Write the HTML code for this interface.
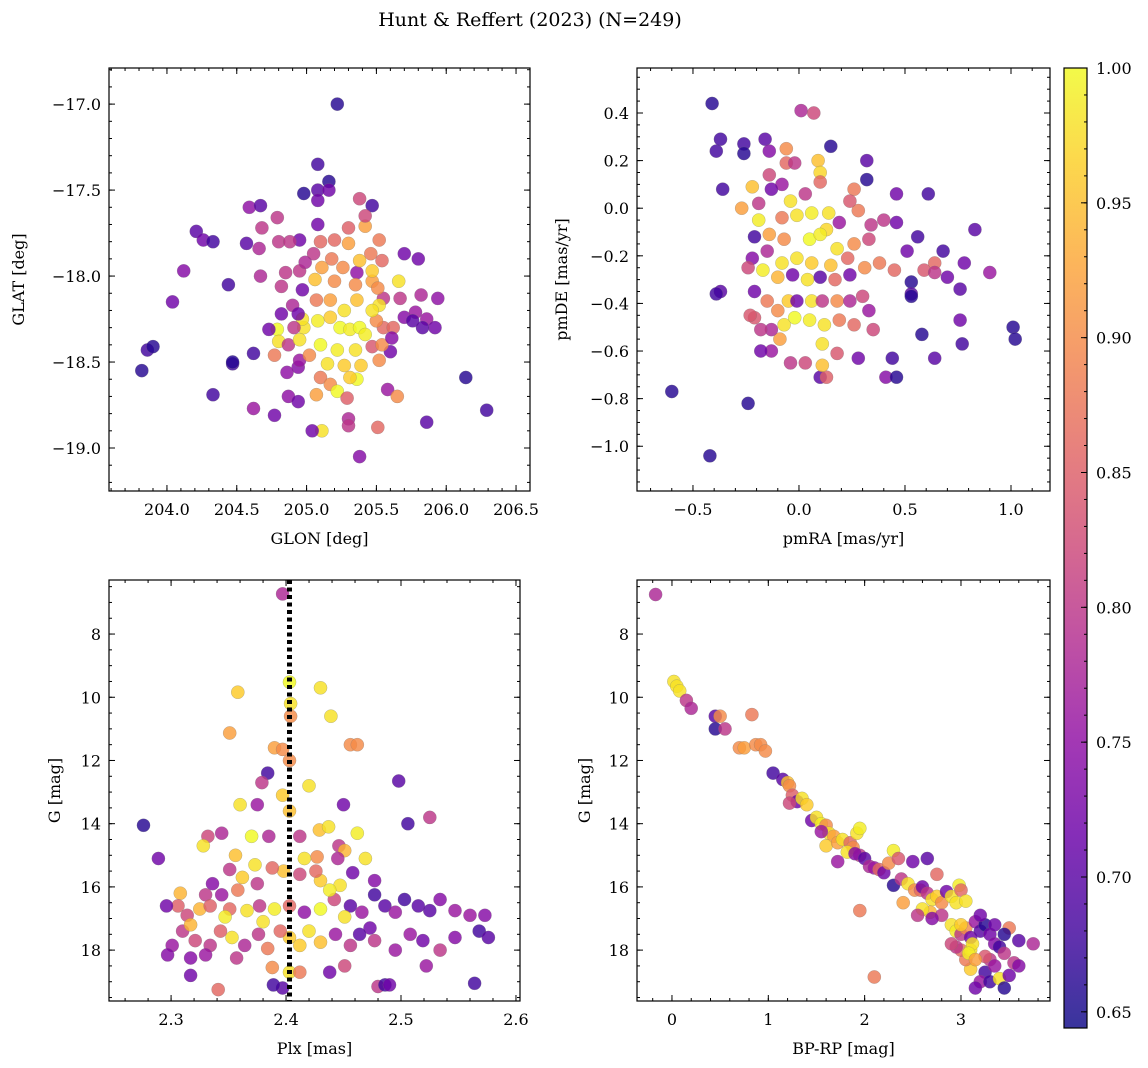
<!DOCTYPE html>
<html><head><meta charset="utf-8"><style>
body{margin:0;background:#fff;}
svg{display:block;font-family:"DejaVu Serif","Liberation Serif",serif;}
</style></head><body>
<svg id="fig" width="1148" height="1068" viewBox="0 0 1148 1068" xmlns="http://www.w3.org/2000/svg">
<text x="530" y="26" font-size="19" text-anchor="middle">Hunt &amp; Reffert (2023) (N=249)</text>
</svg>
<script>
// ---------- Panel 1: GLON / GLAT ----------
const p1Glon=[205.22,203.82,203.86,203.90,204.04,204.12,204.21,204.26,204.33,204.33,204.44,204.47,204.47,204.57,204.59,204.67,204.62,204.62,204.68,204.66,204.67,204.77,204.80,204.79,204.87,204.94,204.94,205.08,205.08,205.08,205.16,205.16,204.98,205.47,205.38,205.08,205.30,205.30,205.42,204.95,204.88,205.10,205.20,205.52,205.42,205.36,205.18,205.05,205.46,205.54,205.70,205.80,205.66,205.47,205.35,205.20,204.97,204.82,204.82,205.55,205.67,205.70,205.78,205.86,205.76,205.92,205.83,205.55,205.62,205.50,204.98,204.79,204.97,204.80,204.87,204.73,204.77,204.95,205.08,205.17,205.24,205.31,205.38,205.27,205.36,205.17,205.07,205.10,205.22,205.35,205.39,205.36,205.27,205.15,205.10,205.17,205.22,205.31,205.07,205.29,205.11,205.04,205.30,205.30,205.51,205.38,205.58,205.65,205.60,205.47,205.54,205.61,204.95,205.02,204.90,204.85,204.95,204.99,205.11,205.26,205.38,205.47,205.94,205.82,205.86,206.14,206.29,205.52,205.51,205.06,204.94,204.91,205.47,205.42,205.52,204.86];
const p1Glat=[-17.00,-18.55,-18.43,-18.41,-18.15,-17.97,-17.74,-17.79,-17.80,-18.69,-18.05,-18.51,-18.50,-17.81,-17.60,-17.59,-18.45,-18.77,-17.72,-17.84,-18.00,-18.81,-17.80,-17.66,-18.70,-18.73,-18.53,-17.35,-17.50,-17.56,-17.45,-17.50,-17.52,-17.59,-17.55,-17.70,-17.72,-17.81,-17.71,-17.79,-17.80,-17.80,-17.79,-17.79,-17.65,-17.98,-17.90,-17.87,-17.87,-17.91,-17.87,-17.90,-18.03,-18.03,-18.05,-18.03,-18.08,-18.22,-18.06,-18.13,-18.13,-18.24,-18.21,-18.25,-18.26,-18.30,-18.30,-18.30,-18.30,-18.26,-18.30,-18.31,-18.25,-18.38,-18.40,-18.31,-18.46,-18.37,-18.26,-18.24,-18.30,-18.31,-18.30,-18.20,-18.14,-18.14,-18.14,-18.40,-18.43,-18.43,-18.52,-18.60,-18.52,-18.51,-18.59,-18.63,-18.67,-18.59,-18.69,-18.71,-18.90,-18.90,-18.83,-18.87,-18.88,-19.05,-18.66,-18.70,-18.44,-18.41,-18.40,-18.36,-18.49,-18.46,-18.17,-17.98,-17.97,-17.92,-17.95,-17.95,-17.91,-17.97,-18.13,-18.11,-18.85,-18.59,-18.78,-18.17,-18.07,-18.02,-18.22,-18.30,-18.20,-18.34,-18.49,-18.56];
const p1Prob=[0.66,0.66,0.68,0.66,0.72,0.74,0.70,0.72,0.68,0.68,0.68,0.68,0.66,0.70,0.75,0.70,0.68,0.76,0.80,0.78,0.78,0.72,0.80,0.80,0.75,0.72,0.74,0.68,0.70,0.72,0.66,0.72,0.66,0.68,0.82,0.72,0.85,0.92,0.92,0.72,0.80,0.86,0.86,0.88,0.82,0.75,0.88,0.80,0.88,0.86,0.72,0.72,0.98,0.92,0.90,0.90,0.72,0.72,0.80,0.80,0.80,0.74,0.76,0.76,0.70,0.72,0.70,0.86,0.86,0.90,0.98,1.00,0.98,0.98,0.80,0.72,0.88,0.98,0.99,0.96,1.00,0.99,1.00,0.98,0.95,0.92,0.88,1.00,0.99,0.98,0.96,1.00,0.96,0.98,0.88,0.90,1.00,0.96,0.92,0.85,0.98,0.72,0.78,0.80,0.86,0.74,0.76,0.90,0.72,0.84,0.90,0.74,0.76,0.90,0.78,0.80,0.80,0.78,0.92,0.90,0.95,0.96,0.75,0.78,0.70,0.66,0.68,0.98,0.90,0.95,0.72,0.80,0.98,0.99,0.90,0.75];

// ---------- Panel 2: pmRA / pmDE ----------
const p2PmRA=[-0.41,-0.39,-0.37,-0.26,-0.26,-0.16,-0.14,0.01,0.07,0.15,0.32,0.32,-0.36,-0.27,-0.22,-0.19,-0.14,-0.06,-0.06,-0.02,0.09,0.10,0.10,-0.08,-0.13,-0.04,0.03,-0.19,-0.08,-0.01,0.06,0.14,0.13,0.19,0.28,0.34,0.40,0.26,0.24,0.46,-0.21,-0.14,-0.07,0.05,0.10,0.18,0.26,0.33,0.23,0.15,0.06,-0.01,-0.08,-0.15,-0.22,-0.24,-0.17,-0.10,-0.03,0.04,0.10,0.17,0.24,0.31,0.38,0.45,0.51,0.59,0.64,0.68,0.64,0.70,0.76,0.78,0.83,0.90,0.61,0.46,0.56,0.53,0.53,0.53,0.58,0.64,0.76,0.77,1.01,1.02,0.44,0.41,0.46,0.28,0.18,0.10,0.13,0.03,-0.04,-0.09,-0.13,-0.18,-0.21,-0.21,-0.15,-0.10,-0.05,-0.01,0.06,0.11,0.18,0.24,0.30,0.33,0.35,0.26,0.19,0.12,0.05,-0.02,-0.07,-0.13,-0.18,0.11,0.11,-0.37,-0.39,-0.23,-0.24,-0.60,-0.42];
const p2PmDE=[0.44,0.24,0.29,0.27,0.23,0.29,0.24,0.41,0.40,0.26,0.20,0.12,0.08,0.00,0.09,0.02,0.14,0.25,0.19,0.19,0.20,0.15,0.11,0.10,0.08,0.03,0.06,-0.05,-0.04,-0.03,-0.02,-0.02,-0.09,-0.06,-0.01,-0.07,-0.05,0.08,0.03,-0.06,-0.12,-0.11,-0.13,-0.13,-0.11,-0.17,-0.15,-0.13,-0.21,-0.24,-0.23,-0.21,-0.23,-0.18,-0.21,-0.25,-0.26,-0.29,-0.28,-0.30,-0.29,-0.30,-0.28,-0.25,-0.23,-0.26,-0.18,-0.26,-0.23,-0.18,-0.27,-0.29,-0.34,-0.23,-0.09,-0.27,0.06,0.06,-0.12,-0.31,-0.36,-0.37,-0.53,-0.63,-0.47,-0.57,-0.50,-0.55,-0.63,-0.71,-0.71,-0.63,-0.61,-0.71,-0.71,-0.65,-0.65,-0.55,-0.60,-0.60,-0.46,-0.35,-0.39,-0.43,-0.39,-0.39,-0.39,-0.39,-0.39,-0.39,-0.37,-0.43,-0.51,-0.49,-0.47,-0.49,-0.47,-0.46,-0.49,-0.51,-0.51,-0.57,-0.66,-0.35,-0.36,-0.45,-0.82,-0.77,-1.04];
const p2Prob=[0.66,0.68,0.68,0.68,0.66,0.70,0.74,0.78,0.82,0.66,0.70,0.66,0.68,0.92,0.95,0.80,0.82,0.90,0.86,0.80,0.95,0.97,0.86,0.76,0.72,0.98,0.80,0.99,0.88,0.98,0.99,0.98,0.97,0.76,0.88,0.80,0.80,0.88,0.84,0.72,0.68,0.92,0.90,1.00,0.99,0.98,0.90,0.82,0.86,0.95,0.96,0.98,0.98,0.78,0.74,0.82,0.99,0.94,0.72,0.98,0.70,0.86,0.72,0.90,0.88,0.86,0.72,0.84,0.86,0.68,0.80,0.72,0.70,0.72,0.70,0.76,0.68,0.72,0.68,0.66,0.70,0.66,0.66,0.70,0.72,0.68,0.66,0.66,0.68,0.74,0.66,0.72,0.84,0.70,0.85,0.82,0.80,0.92,0.76,0.72,0.84,0.72,0.88,0.90,0.96,0.72,0.98,0.80,0.90,0.78,0.82,0.76,0.82,0.86,0.88,0.98,0.99,1.00,0.98,0.78,0.80,0.98,0.95,0.70,0.68,0.84,0.66,0.66,0.66];

// ---------- Panel 3: Plx / G ----------
const p3Plx=[2.397,2.358,2.403,2.430,2.404,2.404,2.351,2.390,2.397,2.439,2.456,2.462,2.384,2.403,2.397,2.403,2.420,2.379,2.375,2.360,2.525,2.498,2.450,2.506,2.276,2.289,2.332,2.344,2.328,2.356,2.370,2.385,2.412,2.429,2.437,2.446,2.462,2.451,2.445,2.469,2.427,2.416,2.447,2.430,2.398,2.388,2.375,2.362,2.358,2.344,2.336,2.330,2.308,2.306,2.296,2.314,2.325,2.334,2.351,2.366,2.377,2.390,2.403,2.416,2.430,2.442,2.456,2.466,2.477,2.486,2.495,2.503,2.515,2.525,2.534,2.547,2.560,2.573,2.568,2.576,2.547,2.534,2.519,2.508,2.495,2.477,2.473,2.464,2.456,2.443,2.430,2.420,2.412,2.403,2.395,2.384,2.376,2.364,2.353,2.343,2.334,2.321,2.310,2.301,2.297,2.317,2.330,2.357,2.388,2.403,2.412,2.397,2.389,2.341,2.317,2.438,2.451,2.480,2.486,2.564,2.522,2.490,2.426,2.412,2.458,2.477,2.351,2.373,2.438,2.451,2.380,2.347,2.317];
const p3G=[6.73,9.84,9.52,9.70,10.2,10.6,11.13,11.6,11.65,10.6,11.5,11.5,12.4,12.0,13.1,13.6,12.8,12.7,13.4,13.4,13.8,12.65,13.4,14.0,14.05,15.1,14.4,14.3,14.7,15.0,14.4,14.4,14.4,14.2,14.1,14.7,14.3,14.85,15.1,15.1,15.05,15.1,15.95,15.8,15.5,15.4,15.9,15.7,16.1,16.25,15.9,16.25,16.2,16.6,16.6,16.9,16.7,16.6,16.7,16.75,16.6,16.7,16.6,16.8,16.7,16.4,16.6,16.8,16.25,16.6,16.8,16.4,16.6,16.75,16.4,16.75,16.9,16.9,17.4,17.6,17.6,18.0,17.7,17.5,18.0,17.7,17.3,17.5,17.85,17.5,17.75,17.4,17.85,17.6,17.4,17.95,17.5,17.85,17.6,17.4,17.85,17.7,17.4,17.85,18.15,18.25,18.15,18.25,18.55,18.7,18.7,19.2,19.1,19.25,18.8,18.7,18.5,19.15,19.1,19.05,18.5,19.1,15.5,15.6,15.55,15.8,15.45,15.3,16.1,16.95,17.1,16.95,17.2];
const p3Prob=[0.78,0.96,1.00,0.98,0.98,0.90,0.92,0.92,0.90,0.98,0.90,0.90,0.68,0.90,0.96,0.95,0.98,0.80,0.76,0.98,0.80,0.70,0.72,0.68,0.66,0.72,0.82,0.78,0.98,0.95,1.00,0.78,0.80,0.95,0.98,0.80,0.99,0.94,0.78,0.98,0.90,0.98,0.98,0.96,0.95,0.86,0.80,0.96,0.88,0.76,0.74,0.80,0.94,0.85,0.72,0.82,0.94,0.85,0.86,0.98,0.80,0.99,0.86,0.75,1.00,0.82,0.70,0.76,0.68,0.70,0.76,0.68,0.70,0.70,0.74,0.76,0.76,0.74,0.68,0.70,0.74,0.80,0.72,0.76,0.76,0.80,0.72,0.70,0.80,0.76,0.95,0.98,0.96,0.96,0.86,0.88,0.80,0.78,0.98,0.85,0.80,0.82,0.80,0.76,0.74,0.74,0.76,0.80,0.90,0.98,0.88,0.70,0.68,0.86,0.72,0.72,0.82,0.80,0.68,0.68,0.76,0.72,0.86,0.82,0.72,0.74,0.80,0.98,0.99,0.98,0.98,0.99,0.94];
const p3PlxLine=2.403;

// ---------- Panel 4: BP-RP / G ----------
const p4Col=[-0.17,0.02,0.05,0.08,0.15,0.20,0.45,0.50,0.45,0.55,0.70,0.75,0.83,0.87,0.92,0.97,1.05,1.15,1.20,1.22,1.25,1.30,1.35,1.40,1.22,1.45,1.50,1.55,1.60,1.63,1.68,1.55,1.60,1.72,1.77,1.85,1.88,1.92,1.95,1.82,1.95,1.90,2.00,2.05,2.10,2.15,2.20,2.25,2.30,2.35,2.50,2.65,2.30,2.38,2.45,2.52,2.58,2.60,2.65,2.70,2.75,2.80,2.85,2.90,2.95,2.98,3.00,3.05,2.75,2.68,2.60,2.80,2.90,2.95,3.00,3.05,3.10,3.15,3.20,3.25,3.30,3.35,3.40,3.45,3.50,3.55,3.60,3.75,3.30,3.25,3.20,3.15,3.30,3.40,3.45,3.10,3.05,3.00,2.95,3.10,3.12,3.00,3.08,3.25,3.35,3.50,1.95,2.10,1.72,2.40,2.55,2.70,3.20,3.35,3.45,3.60,2.90,3.15];
const p4G=[6.75,9.5,9.65,9.8,10.1,10.35,10.6,10.6,11.0,11.0,11.6,11.6,10.55,11.5,11.5,11.7,12.4,12.6,12.7,12.8,13.1,13.3,13.2,13.4,13.35,13.9,13.8,14.0,14.05,14.3,14.4,14.25,14.7,14.6,14.5,14.6,14.75,14.3,14.15,14.9,15.0,14.95,15.1,15.35,15.4,15.45,15.55,15.25,14.85,15.1,15.2,15.1,15.95,15.75,15.9,16.1,16.1,16.0,16.2,16.4,16.3,16.5,16.15,16.3,16.5,15.95,16.1,16.45,15.6,16.8,16.7,16.9,17.2,17.4,17.5,17.3,17.6,17.1,17.4,17.2,17.5,17.8,17.9,18.1,17.3,18.4,18.5,17.8,18.3,18.7,19.0,19.2,19.0,18.9,19.2,18.6,18.3,18.0,17.9,18.0,17.8,17.2,18.1,18.2,18.5,18.8,16.75,18.85,15.2,16.5,16.9,17.0,16.9,17.2,17.5,17.7,17.8,18.3];
const p4Prob=[0.78,0.98,0.98,0.98,0.80,0.78,0.70,0.90,0.66,0.80,0.90,0.92,0.88,0.90,0.90,0.90,0.68,0.70,0.95,0.90,0.85,0.72,0.98,0.96,0.82,0.72,0.98,0.99,0.90,0.98,0.92,0.76,0.96,0.92,0.98,0.86,0.90,0.98,0.99,0.98,0.80,0.74,0.70,0.78,0.76,0.86,0.72,0.90,0.99,0.84,0.72,0.70,0.66,0.80,0.98,0.90,0.86,0.72,0.80,0.98,0.96,0.90,0.72,0.98,0.98,0.99,0.86,0.98,0.86,0.94,0.98,0.80,0.98,0.99,0.80,0.90,0.72,0.76,0.70,0.66,0.72,0.74,0.68,0.80,0.88,0.80,0.74,0.78,0.80,0.68,0.76,0.72,0.68,0.98,0.66,0.96,0.88,0.86,0.80,0.98,0.98,0.96,0.99,0.84,0.76,0.72,0.88,0.88,0.76,0.92,0.80,0.74,0.72,0.72,0.66,0.70,0.82,0.92];

// ---------- Colorbar ----------
const cbMin=0.644, cbMax=1.0;
const cbTicks=[0.65,0.70,0.75,0.80,0.85,0.90,0.95,1.00];

const NS='http://www.w3.org/2000/svg';
const svg=document.getElementById('fig');
function mk(tag,attrs,parent){const e=document.createElementNS(NS,tag);for(const k in attrs)e.setAttribute(k,attrs[k]);(parent||svg).appendChild(e);return e;}

const plasma=[[13,8,135],[65,4,157],[106,0,168],[143,13,164],[177,42,144],[204,71,120],[225,100,98],[242,132,75],[252,166,54],[252,206,37],[240,249,33]];
function cmap(v){let t=(v-cbMin)/(cbMax-cbMin);t=Math.max(0,Math.min(1,t))*10;const i=Math.min(9,Math.floor(t)),f=t-i;const a=plasma[i],b=plasma[i+1];return 'rgb('+a.map((c,k)=>Math.round(c+(b[k]-c)*f)).join(',')+')';}
function fmt(v,d){return (v<0?'\u2212':'')+Math.abs(v).toFixed(d);}

function panel(o){
  const g=mk('g',{});
  
  
  const X=v=>o.x0+(v-o.xr[0])/(o.xr[1]-o.xr[0])*(o.x1-o.x0);
  const Y=v=>o.y0+(v-o.yr[0])/(o.yr[1]-o.yr[0])*(o.y1-o.y0);
  const cp='clip-'+o.name;
  const cl=mk('clipPath',{id:cp},g);mk('rect',{x:o.x0,y:o.y0,width:o.x1-o.x0,height:o.y1-o.y0},cl);
  const pts=mk('g',{'clip-path':'url(#'+cp+')'},g);
  for(let i=0;i<o.xs.length;i++){
    const c=mk('circle',{cx:X(o.xs[i]).toFixed(1),cy:Y(o.ys[i]).toFixed(1),r:6.6,fill:cmap(o.cs[i]),'fill-opacity':0.82,stroke:'#777','stroke-width':0.4,'stroke-opacity':0.6},pts);
    
    
  }
  if(o.vline!==undefined){
    const l=mk('line',{x1:X(o.vline),x2:X(o.vline),y1:o.y0,y2:o.y1,stroke:'#000','stroke-width':5,'stroke-dasharray':'4 3.5'},g);
    
    
  }
  const fr=mk('rect',{x:o.x0,y:o.y0,width:o.x1-o.x0,height:o.y1-o.y0,fill:'none',stroke:'#000','stroke-width':1.2},g);
  
  
  const xlo=Math.min(...o.xr),xhi=Math.max(...o.xr),ylo=Math.min(...o.yr),yhi=Math.max(...o.yr);
  for(let v=Math.ceil(xlo/o.xmin-1e-6)*o.xmin;v<=xhi;v+=o.xmin){const p=X(v);mk('line',{x1:p,x2:p,y1:o.y1,y2:o.y1-3,stroke:'#000'},g);mk('line',{x1:p,x2:p,y1:o.y0,y2:o.y0+3,stroke:'#000'},g);}
  for(let v=Math.ceil(ylo/o.ymin-1e-6)*o.ymin;v<=yhi;v+=o.ymin){const p=Y(v);mk('line',{x1:o.x0,x2:o.x0+3,y1:p,y2:p,stroke:'#000'},g);mk('line',{x1:o.x1,x2:o.x1-3,y1:p,y2:p,stroke:'#000'},g);}
  o.xt.forEach(v=>{const p=X(v);mk('line',{x1:p,x2:p,y1:o.y1,y2:o.y1-6,stroke:'#000'},g);mk('line',{x1:p,x2:p,y1:o.y0,y2:o.y0+6,stroke:'#000'},g);
    const t=mk('text',{x:p,y:o.y1+24,'font-size':16,'text-anchor':'middle'},g);t.textContent=fmt(v,o.xd);
    });
  o.yt.forEach(v=>{const p=Y(v);mk('line',{x1:o.x0,x2:o.x0+6,y1:p,y2:p,stroke:'#000'},g);mk('line',{x1:o.x1,x2:o.x1-6,y1:p,y2:p,stroke:'#000'},g);
    const t=mk('text',{x:o.x0-8,y:p+6,'font-size':16,'text-anchor':'end'},g);t.textContent=fmt(v,o.yd);
    });
  const xl=mk('text',{x:(o.x0+o.x1)/2,y:o.y1+53,'font-size':16,'text-anchor':'middle'},g);xl.textContent=o.xlabel;
  
  const yx=o.ylx,yy=(o.y0+o.y1)/2;
  const yl=mk('text',{x:yx,y:yy,'font-size':16,'text-anchor':'middle',transform:'rotate(-90 '+yx+' '+yy+')'},g);yl.textContent=o.ylabel;
  
}

panel({name:'position-panel',xs:p1Glon,ys:p1Glat,cs:p1Prob,x0:109,x1:530,y0:68,y1:491,xr:[203.585,206.60],yr:[-16.79,-19.25],
  xt:[204,204.5,205,205.5,206,206.5],yt:[-17,-17.5,-18,-18.5,-19],xmin:0.1,ymin:0.1,xd:1,yd:1,xlabel:'GLON [deg]',ylabel:'GLAT [deg]',ylx:24});
panel({name:'proper-motion-panel',xs:p2PmRA,ys:p2PmDE,cs:p2Prob,x0:637,x1:1050,y0:68,y1:491,xr:[-0.764,1.184],yr:[0.589,-1.188],
  xt:[-0.5,0,0.5,1.0],yt:[0.4,0.2,0,-0.2,-0.4,-0.6,-0.8,-1.0],xmin:0.1,ymin:0.05,xd:1,yd:1,xlabel:'pmRA [mas/yr]',ylabel:'pmDE [mas/yr]',ylx:567});
panel({name:'parallax-panel',xs:p3Plx,ys:p3G,cs:p3Prob,vline:p3PlxLine,x0:109,x1:520,y0:580,y1:1001,xr:[2.246,2.6035],yr:[6.29,19.61],
  xt:[2.3,2.4,2.5,2.6],yt:[8,10,12,14,16,18],xmin:0.02,ymin:0.5,xd:1,yd:0,xlabel:'Plx [mas]',ylabel:'G [mag]',ylx:60});
panel({name:'cmd-panel',xs:p4Col,ys:p4G,cs:p4Prob,x0:637,x1:1050,y0:580,y1:1001,xr:[-0.363,3.924],yr:[6.29,19.61],
  xt:[0,1,2,3],yt:[8,10,12,14,16,18],xmin:0.2,ymin:0.5,xd:0,yd:0,xlabel:'BP-RP [mag]',ylabel:'G [mag]',ylx:590});

(function(){
  const x0=1064,x1=1087,y0=68,y1=1028;
  const g=mk('g',{});
  
  
  const defs=mk('defs',{},g);
  const lg=mk('linearGradient',{id:'plasmaGrad',x1:0,y1:1,x2:0,y2:0},defs);
  plasma.forEach((c,i)=>mk('stop',{offset:i/10,'stop-color':'rgb('+c.join(',')+')'},lg));
  mk('rect',{x:x0,y:y0,width:x1-x0,height:y1-y0,fill:'url(#plasmaGrad)','fill-opacity':0.82},g);
  mk('rect',{x:x0,y:y0,width:x1-x0,height:y1-y0,fill:'none',stroke:'#000','stroke-width':1.2},g);
  const Y=v=>y1-(v-cbMin)/(cbMax-cbMin)*(y1-y0);
  for(let v=0.65;v<=1.0001;v+=0.01){const p=Y(v);mk('line',{x1:x1,x2:x1-3,y1:p,y2:p,stroke:'#000'},g);}
  cbTicks.forEach(v=>{const p=Y(v);mk('line',{x1:x1,x2:x1-6,y1:p,y2:p,stroke:'#000'},g);
    const t=mk('text',{x:1096,y:p+6,'font-size':16},g);t.textContent=v.toFixed(2);
    });
})();
</script>
</body></html>
